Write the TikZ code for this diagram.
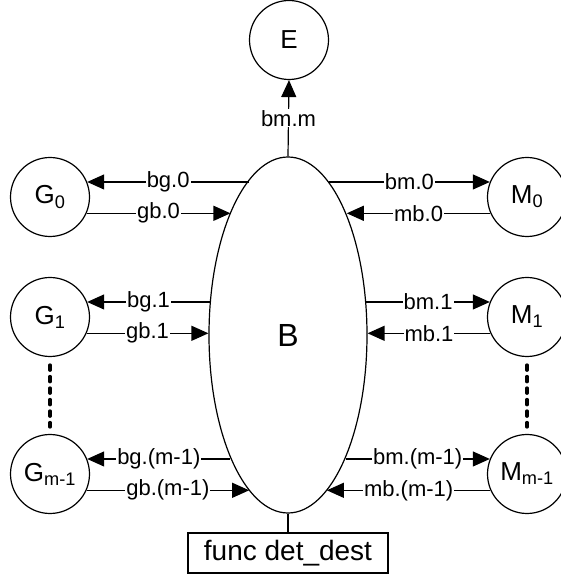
\documentclass[tikz,border=0pt]{standalone}
\usepackage{fontspec}
\setmainfont{Liberation Sans}
\usetikzlibrary{shapes.geometric,arrows.meta}

\begin{document}
\begin{tikzpicture}[x=1pt,y=1pt,
  proc/.style={circle,draw,line width=1.2pt,minimum size=79pt,inner sep=0pt,
    font=\fontsize{26}{30}\selectfont},
  chan/.style={line width=1.2pt,-{Triangle[length=17pt,width=15pt]}},
  lbl/.style={fill=white,inner sep=1pt,font=\fontsize{22}{26}\selectfont},
  elide/.style={line width=3.5pt,line cap=round,dash pattern=on 5pt off 6.5pt,
    shorten <=8pt,shorten >=7pt}]

\useasboundingbox (0,0) rectangle (560,581);

% Central process
\node[ellipse,draw,line width=1.2pt,minimum width=158pt,minimum height=356pt,
  inner sep=0pt,font=\fontsize{32}{36}\selectfont] (B) at (288,246) {B};

% Environment on top
\node[proc] (E) at (289,541) {E};

% Left column
\node[proc] (G0) at (50,384) {G\textsubscript{0}};
\node[proc] (G1) at (50,264) {G\textsubscript{1}};
\node[proc] (Gm) at (50,107) {G\textsubscript{m-1}};

% Right column
\node[proc] (M0) at (527,384) {M\textsubscript{0}};
\node[proc] (M1) at (527,264) {M\textsubscript{1}};
\node[proc] (Mm) at (527,107) {M\textsubscript{m-1}};

% Decision box
\node[draw,line width=1.2pt,minimum width=200pt,minimum height=40pt,inner sep=2pt,
  font=\fontsize{28}{32}\selectfont] (F) at (288,28) {func det\_dest};

% Channels on the left
\draw[chan] (G0.22 -| B.104.8) -- node[lbl]{bg.0} (G0.22);
\draw[chan] (G0.-24) -- node[lbl]{gb.0} (G0.-24 -| B.115.2);
\draw[chan] (G1.22 -| B.157.1) -- node[lbl]{bg.1} (G1.22);
\draw[chan] (G1.-24) -- node[lbl]{gb.1} (G1.-24 -| B.178.5);
\draw[chan] (Gm.22 -| B.245.5) -- node[lbl]{bg.(m-1)} (Gm.22);
\draw[chan] (Gm.-24) -- node[lbl]{gb.(m-1)} (Gm.-24 -| B.256);

% Channels on the right
\draw[chan] (M0.158 -| B.75.2) -- node[lbl]{bm.0} (M0.158);
\draw[chan] (M0.-156) -- node[lbl]{mb.0} (M0.-156 -| B.64.8);
\draw[chan] (M1.158 -| B.22.9) -- node[lbl]{bm.1} (M1.158);
\draw[chan] (M1.-156) -- node[lbl]{mb.1} (M1.-156 -| B.1.5);
\draw[chan] (Mm.158 -| B.-65.5) -- node[lbl]{bm.(m-1)} (Mm.158);
\draw[chan] (Mm.-156) -- node[lbl]{mb.(m-1)} (Mm.-156 -| B.-76);

% Output to E and link to the box
\draw[chan] (B.north) -- node[lbl]{bm.m} (E.south);
\draw[line width=1.2pt] (B.south) -- (F.north);

% Elided processes
\draw[elide] (G1.south) -- (Gm.north);
\draw[elide] (M1.south) -- (Mm.north);

\end{tikzpicture}
\end{document}
